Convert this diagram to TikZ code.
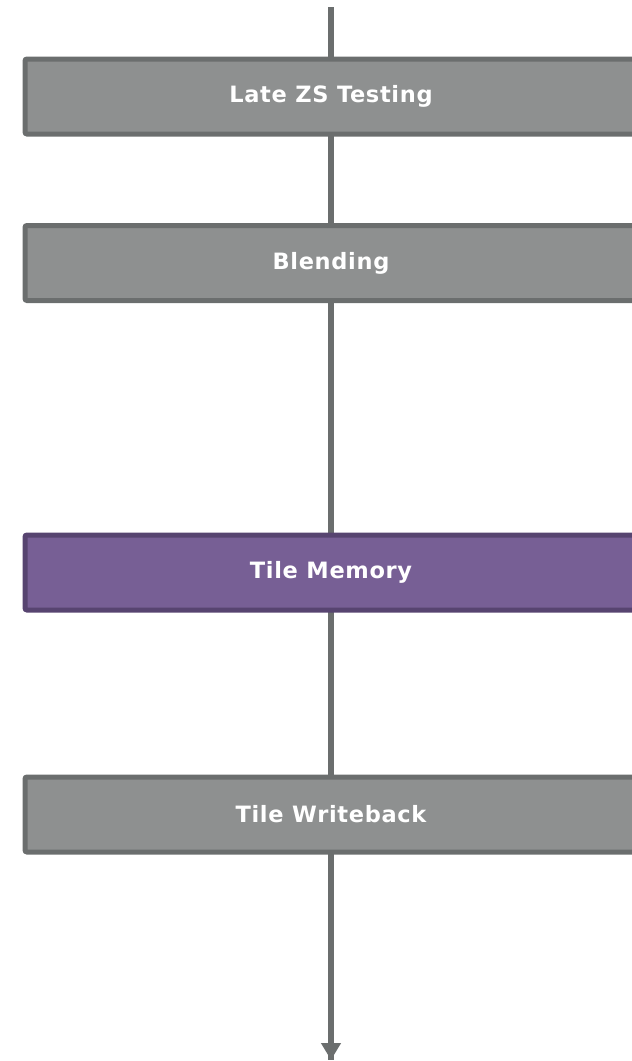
\documentclass[tikz,border=0pt]{standalone}
\usepackage{fontspec}
\setmainfont{DejaVu Sans}
\usetikzlibrary{arrows.meta}
\definecolor{stagefill}{HTML}{8E9090}
\definecolor{stageedge}{HTML}{6B6E6E}
\definecolor{memfill}{HTML}{775F95}
\definecolor{memedge}{HTML}{574470}
\definecolor{flow}{HTML}{6B6E6E}
\begin{document}
\begin{tikzpicture}[x=1pt,y=-1pt,
  stage/.style={draw=stageedge, fill=stagefill, line width=5pt, rounded corners=2pt,
    minimum width=612pt, minimum height=75pt, inner sep=0pt,
    text=white, font=\bfseries\fontsize{22.5}{26}\selectfont\addfontfeature{LetterSpace=3}},
  memstage/.style={stage, draw=memedge, fill=memfill},
  flowline/.style={draw=flow, line width=6pt}]
\useasboundingbox (0,0) rectangle (632,1061);
\clip (0,0) rectangle (632,1061);
\coordinate (top) at (331,7);
\coordinate (bottom) at (331,1060);
\draw[flowline] (top) -- (bottom);
\draw[flowline, -{Triangle[length=17pt,width=19pt]}] (331,1000) -- (bottom);
% stage boxes run on past the right edge of the page
\node[stage] (late) at (331,96.5) {Late ZS Testing};
\node[stage] (blend) at (331,263) {Blending};
\node[memstage] (tilemem) at (331,572.5) {Tile Memory};
\node[stage] (wb) at (331,814.5) {Tile Writeback};
\end{tikzpicture}
\end{document}
